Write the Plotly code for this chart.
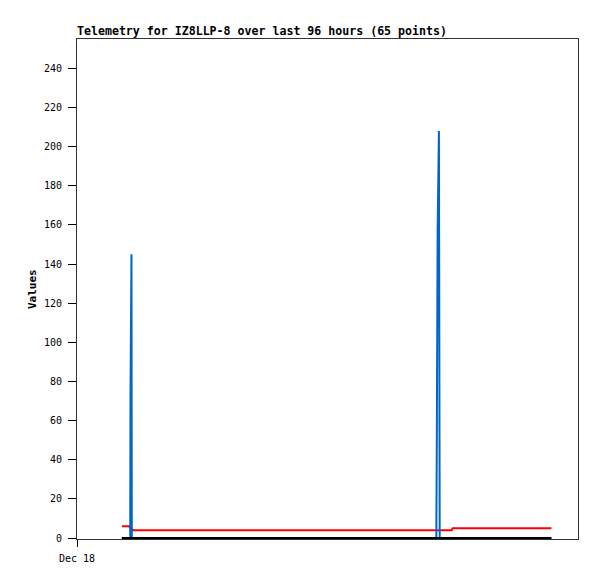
import plotly.graph_objects as go

# hours since Dec 18 00:00
times = [8.6, 10.0, 10.2, 10.25, 10.44, 10.5, 10.8, 30.0, 50.0, 68.85, 68.95, 69.1, 69.35, 69.45, 69.5, 71.8, 72.0, 90.9]
blue_vals = [0, 0, 0, 72, 145, 0, 0, 0, 0, 0, 52, 156, 208, 104, 0, 0, 0, 0]
red_vals = [6, 6, 5, 5, 5, 4.5, 4, 4, 4, 4, 4, 4, 4, 4, 4, 4, 5, 5]
black_vals = [0] * len(times)

y_ticks = list(range(0, 241, 20))
x_tick_vals = [0]
x_tick_text = ["Dec 18"]

FONT = "DejaVu Sans Mono"

fig = go.Figure()
fig.add_trace(go.Scatter(x=times, y=red_vals, mode="lines",
                         line=dict(color="#ff0000", width=2), showlegend=False))
fig.add_trace(go.Scatter(x=times, y=blue_vals, mode="lines",
                         line=dict(color="#0066cc", width=2), showlegend=False))
fig.add_trace(go.Scatter(x=times, y=black_vals, mode="lines",
                         line=dict(color="#000000", width=2), showlegend=False))

W, H = 589, 571  # page body has an 8px margin
fig.update_layout(
    width=W, height=H,
    margin=dict(l=69, r=19, t=31, b=40),
    paper_bgcolor="white", plot_bgcolor="white",
    title=dict(text="<b>Telemetry for IZ8LLP-8 over last 96 hours (65 points)</b>",
               font=dict(family=FONT, size=11.6, color="black"),
               xref="paper", x=0, xanchor="left",
               yref="container", y=1 - 23 / H, yanchor="middle"),
    font=dict(family=FONT, size=10, color="black"),
)
fig.update_xaxes(range=[0, 96], tickvals=x_tick_vals, ticktext=x_tick_text,
                 ticks="outside", ticklen=7, tickcolor="black",
                 ticklabelstandoff=3,
                 showline=True, linecolor="#333333", linewidth=1, mirror=True,
                 showgrid=False, zeroline=False,
                 tickfont=dict(family=FONT, size=10, color="black"))
fig.update_yaxes(range=[-0.5, 255], tickvals=y_ticks,
                 ticks="outside", ticklen=8, tickcolor="black",
                 ticklabelstandoff=4,
                 showline=True, linecolor="#333333", linewidth=1, mirror=True,
                 showgrid=False, zeroline=False,
                 tickfont=dict(family=FONT, size=10, color="black"))
fig.add_annotation(text="<b>Values</b>", xref="paper", yref="paper",
                   x=(32 - 77) / 501, y=0.5, xanchor="center", yanchor="middle",
                   textangle=-90, showarrow=False,
                   font=dict(family=FONT, size=11, color="black"))

fig.write_html("out.html")
